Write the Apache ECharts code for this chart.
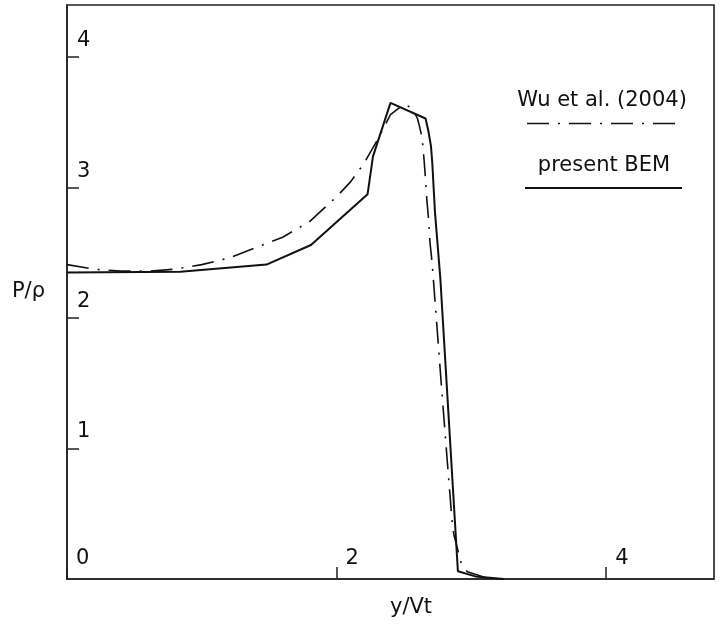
<!DOCTYPE html>
<html>
<head>
<meta charset="utf-8">
<script src="https://cdn.jsdelivr.net/npm/echarts@6/dist/echarts.min.js"></script>
<style>
html,body{margin:0;padding:0;background:#fff;}
#chart{width:720px;height:628px;}
</style>
</head>
<body>
<div id="chart"></div>
<script>
// ---- data ----
var xTickValues = [0, 2, 4];
var yTickValues = [1, 2, 3, 4];

var wuX = [0, 0.2, 0.4, 0.6, 0.8, 1.0, 1.2, 1.4, 1.6, 1.8, 2.0, 2.1, 2.2, 2.3, 2.4, 2.5, 2.56, 2.6, 2.615, 2.635, 2.65, 2.66, 2.67, 2.684, 2.692, 2.709, 2.74, 2.78, 2.82, 2.858, 2.87, 2.925, 2.97, 3.12, 3.22];
var wuY = [2.41, 2.375, 2.36, 2.36, 2.375, 2.41, 2.46, 2.54, 2.62, 2.74, 2.93, 3.04, 3.18, 3.36, 3.56, 3.64, 3.61, 3.53, 3.47, 3.38, 3.2, 3.06, 2.9, 2.74, 2.59, 2.42, 2.0, 1.45, 0.92, 0.43, 0.34, 0.12, 0.056, 0.005, 0];

var bemX = [0, 0.84, 1.48, 1.81, 2.23, 2.27, 2.40, 2.66, 2.68, 2.70, 2.71, 2.73, 2.77, 2.90, 3.03, 3.24];
var bemY = [2.35, 2.355, 2.41, 2.56, 2.95, 3.24, 3.65, 3.53, 3.44, 3.32, 3.19, 2.81, 2.30, 0.06, 0.02, 0];

var legendNames = ['Wu et al. (2004)', 'present BEM'];

function pairs(xs, ys) { return xs.map(function (x, i) { return [x, ys[i]]; }); }

var FONT = 'DejaVu Sans';
var INK = '#111';
var AXIS = '#222';

var chart = echarts.init(document.getElementById('chart'), null, {renderer: 'canvas'});
chart.setOption({
  animation: false,
  backgroundColor: '#fff',
  grid: {left: 67, right: 6, top: 5, bottom: 49, show: true, borderColor: AXIS, borderWidth: 1.6, backgroundColor: 'transparent'},
  xAxis: {
    type: 'value', min: 0, max: 4.8, interval: 2,
    name: 'y/Vt', nameLocation: 'middle', nameGap: 18,
    nameTextStyle: {fontFamily: FONT, fontSize: 21, color: INK, padding: [0, 0, 0, 41], verticalAlign: 'top'},
    axisLine: {show: true, lineStyle: {color: AXIS, width: 1.6}},
    axisTick: {show: true, inside: true, length: 12, lineStyle: {color: AXIS, width: 1.5},
      customValues: xTickValues},
    axisLabel: {inside: true, margin: 10, fontFamily: FONT, fontSize: 21, color: INK,
      align: 'left', verticalAlign: 'bottom', padding: [0, 0, 0, 9],
      customValues: xTickValues},
    splitLine: {show: false}
  },
  yAxis: {
    type: 'value', min: 0, max: 4.4, interval: 1,
    name: 'P/\u03c1', nameLocation: 'middle', nameGap: 22, nameRotate: 0,
    nameTextStyle: {fontFamily: FONT, fontSize: 21, color: INK, padding: [0, 0, 38, 0]},
    axisLine: {show: true, lineStyle: {color: AXIS, width: 1.6}},
    axisTick: {show: true, inside: true, length: 12, lineStyle: {color: AXIS, width: 1.5},
      customValues: yTickValues},
    axisLabel: {inside: true, margin: 10, fontFamily: FONT, fontSize: 21, color: INK,
      verticalAlign: 'bottom', padding: [0, 0, 6, 0],
      customValues: yTickValues},
    splitLine: {show: false}
  },
  series: [
    {
      name: legendNames[0], type: 'line', data: pairs(wuX, wuY), symbol: 'none', smooth: false,
      lineStyle: {color: INK, width: 1.6, type: [22, 9, 2, 9]}
    },
    {
      name: legendNames[1], type: 'line', data: pairs(bemX, bemY), symbol: 'none', smooth: false,
      lineStyle: {color: INK, width: 2, type: 'solid'}
    }
  ],
  graphic: [
    {type: 'text', x: 602, y: 101, style: {text: legendNames[0], font: '21px "DejaVu Sans"', fill: INK, align: 'center', verticalAlign: 'middle'}},
    {type: 'line', shape: {x1: 527, y1: 123.5, x2: 677, y2: 123.5}, style: {stroke: INK, lineWidth: 1.6, lineDash: [22, 9, 2, 9]}},
    {type: 'text', x: 604, y: 166, style: {text: legendNames[1], font: '21px "DejaVu Sans"', fill: INK, align: 'center', verticalAlign: 'middle'}},
    {type: 'line', shape: {x1: 525, y1: 188, x2: 682, y2: 188}, style: {stroke: INK, lineWidth: 2}}
  ]
});
</script>
</body>
</html>
